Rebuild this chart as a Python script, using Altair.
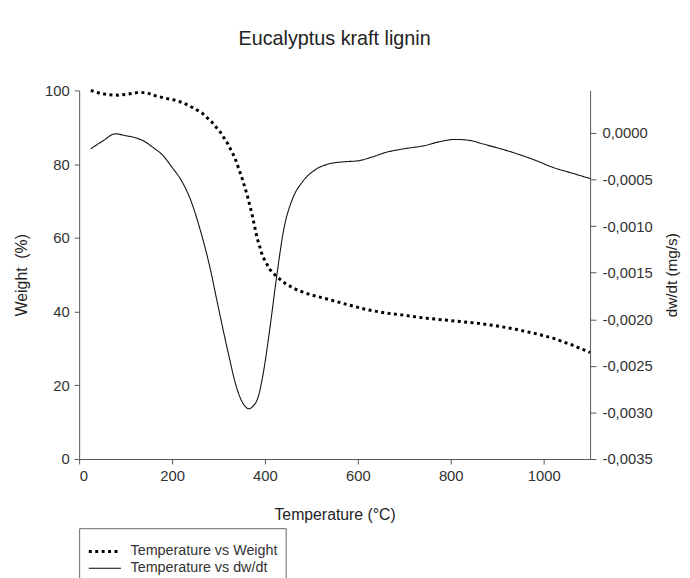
import altair as alt
import pandas as pd

# Weight curve (dotted)
temp_w = [25, 45, 65, 85, 105, 125, 145, 165, 185, 205, 225, 245, 265, 285, 305, 320,
          335, 350, 362, 372, 383, 395, 410, 425, 445, 470, 500, 540, 580, 620, 660,
          700, 740, 780, 820, 860, 900, 940, 980, 1020, 1060, 1100]
weight = [100, 99.2, 98.8, 98.7, 99.0, 99.4, 99.4, 98.5, 97.9, 97.4, 96.6, 95.3, 93.8,
          91.5, 88.5, 85.5, 81.8, 76.5, 71.5, 66.5, 60.0, 55.0, 51.5, 49.5, 47.5, 45.8,
          44.5, 43.2, 41.8, 40.5, 39.6, 39.0, 38.3, 37.8, 37.3, 36.8, 36.1, 35.2, 34.1,
          32.8, 31.0, 28.9]

# Derivative curve (solid)
temp_d = [25, 50, 78, 100, 120, 140, 160, 180, 200, 220, 240, 260, 280, 300, 320, 340,
          355, 365, 375, 385, 397, 410, 425, 440, 460, 480, 510, 540, 570, 600, 630, 660,
          700, 740, 780, 810, 840, 870, 900, 940, 980, 1020, 1060, 1100]
dwdt = [-0.00017, -0.00009, -0.00001, -0.00003, -0.00005, -0.00009, -0.00016, -0.00024,
        -0.00037, -0.00051, -0.00072, -0.00103, -0.00141, -0.00188, -0.00234, -0.00275,
        -0.00292, -0.00296, -0.00293, -0.00284, -0.00256, -0.00212, -0.00155, -0.00105,
        -0.00070, -0.00053, -0.00039, -0.00033, -0.00031, -0.00030, -0.00026, -0.00021,
        -0.00017, -0.00014, -0.00009, -0.00007, -0.00008, -0.00012, -0.00016, -0.00022,
        -0.00029, -0.00037, -0.00043, -0.00049]

series_names = ["Temperature vs Weight", "Temperature vs dw/dt"]
x_ticks = [0, 200, 400, 600, 800, 1000]
left_ticks = [0, 20, 40, 60, 80, 100]
right_ticks = [-0.0035, -0.0030, -0.0025, -0.0020, -0.0015, -0.0010, -0.0005, 0.0]

df_w = pd.DataFrame({"T": temp_w, "W": weight, "series": series_names[0]})
df_d = pd.DataFrame({"T": temp_d, "D": dwdt, "series": series_names[1]})

FONT = "Liberation Sans"
AX = "#555555"
LAB = "#333333"

legend = alt.Legend(
    title="\u00a0", titleFontSize=6, titlePadding=1, titleFont=FONT,
    orient="none", legendX=0, legendY=443, direction="vertical",
    strokeColor="#666666", padding=8, fillColor="white",
    symbolType="stroke", symbolSize=1056, symbolStrokeColor="black",
    symbolOffset=0, labelOffset=8, clipHeight=17, rowPadding=0,
    labelFont=FONT, labelFontSize=14.5, labelColor=LAB, labelLimit=400,
)

dash_scale = alt.Scale(domain=series_names, range=[[3, 3.5], [1, 0]])
width_scale = alt.Scale(domain=series_names, range=[3, 1.1])

x_enc = alt.X("T:Q", scale=alt.Scale(domain=[0, 1100], nice=False, zero=False),
              axis=alt.Axis(values=x_ticks, format="d", title="Temperature (°C)",
                            titlePadding=23))

dash_enc = alt.StrokeDash("series:N", scale=dash_scale, legend=legend, sort=series_names)
width_enc = alt.StrokeWidth("series:N", scale=width_scale, legend=legend, sort=series_names)

weight_line = alt.Chart(df_w).mark_line(color="black", strokeCap="butt").encode(
    x=x_enc,
    y=alt.Y("W:Q", scale=alt.Scale(domain=[0, 100], nice=False),
            axis=alt.Axis(values=left_ticks, title="Weight\u00a0 (%)", orient="left",
                          titlePadding=15)),
    strokeDash=dash_enc,
    strokeWidth=width_enc,
)

dwdt_line = alt.Chart(df_d).mark_line(color="#111111", interpolate="monotone").encode(
    x=x_enc,
    y=alt.Y("D:Q", scale=alt.Scale(domain=[-0.0035, 0.000456], nice=False, zero=False),
            axis=alt.Axis(values=right_ticks, orient="right", title="dw/dt (mg/s)",
                          titleAngle=270, titleBaseline="top", titlePadding=13,
                          titleFontSize=15.5,
                          tickSize=6, labelPadding=6,
                          labelExpr="replace(replace(format(datum.value, '.4f'), '.', ','), '\u2212', '-')")),
    strokeDash=dash_enc,
    strokeWidth=width_enc,
)

chart = alt.layer(weight_line, dwdt_line).resolve_scale(y="independent").properties(
    width=517, height=373,
    autosize=alt.AutoSizeParams(type="none"),
    padding={"left": 72, "top": 80, "right": 93, "bottom": 117},
    background="white",
    title=alt.TitleParams("Eucalyptus kraft lignin", font=FONT, fontSize=20,
                          fontWeight="normal", color="#222222", offset=35, anchor="middle"),
).configure_view(stroke=None).configure_axis(
    grid=False, domainColor=AX, tickColor=AX, tickSize=5, labelPadding=5,
    labelFont=FONT, labelFontSize=15, labelColor=LAB,
    titleFont=FONT, titleFontSize=16, titleFontWeight="normal", titleColor="#222222",
)

chart.save("out.html", embed_options={"renderer": "svg", "actions": False})
